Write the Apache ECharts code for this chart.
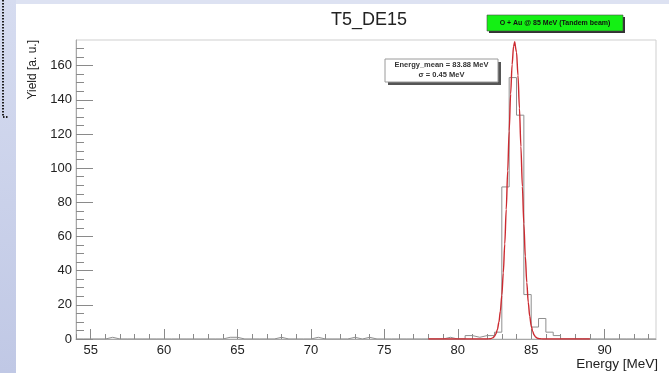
<!DOCTYPE html>
<html>
<head>
<meta charset="utf-8">
<title>T5_DE15</title>
<script src="https://cdn.jsdelivr.net/npm/echarts@6/dist/echarts.min.js"></script>
<style>
  html, body { margin: 0; padding: 0; }
  #chart { width: 669px; height: 373px; }
</style>
</head>
<body>
<div id="chart"></div>
<script>
// histogram, 0.5 MeV bins from 54 to 93.5
const histStart = 54;
const binWidth = 0.5;
const counts = [
  0, 0, 0, 0, 1, 0, 0, 0, 0, 0,        // 54.0 - 58.5
  0, 0, 0, 0, 0, 0, 0, 0, 0, 0,        // 59.0 - 63.5
  1, 1, 0, 0, 0, 0, 0, 1, 0, 0,        // 64.0 - 68.5
  0, 0, 1, 0, 0, 0, 0, 1, 0, 1,        // 69.0 - 73.5
  0, 0, 0, 0, 0, 0, 0, 0, 0, 0,        // 74.0 - 78.5
  1, 0, 0, 2, 1, 2, 2, 4, 89, 153,     // 79.0 - 83.5
  131, 26, 7, 12, 4, 2, 0, 0, 0, 0,    // 84.0 - 88.5
  0, 0, 0, 0, 0, 0, 0, 0, 0            // 89.0 - 93.0
];

// gaussian fit (mean 83.88 MeV, sigma 0.45 MeV)
const fitX = [78, 82.0, 82.2, 82.3, 82.4, 82.5, 82.6, 82.7, 82.8, 82.9, 83.0, 83.1, 83.2, 83.3,
  83.4, 83.5, 83.6, 83.7, 83.8, 83.88, 83.9, 84.0, 84.1, 84.2, 84.3, 84.4, 84.5, 84.6, 84.7,
  84.8, 84.9, 85.0, 85.1, 85.2, 85.3, 85.4, 85.5, 85.6, 85.8, 89];
const fitY = [0, 0.03, 0.16, 0.37, 0.78, 1.58, 3.05, 5.59, 9.77, 16.3, 25.7, 38.7, 55.6, 75.8,
  98.5, 121.8, 143.4, 160.6, 171.3, 174.0, 173.8, 167.9, 154.4, 135.1, 112.6, 89.2, 67.4, 48.4, 33.1,
  21.5, 13.3, 7.9, 4.4, 2.36, 1.2, 0.58, 0.25, 0.12, 0.02, 0];

const xMajorTicks = [55, 60, 65, 70, 75, 80, 85, 90];
const xMinorTicks = [54, 55, 56, 57, 58, 59, 60, 61, 62, 63, 64, 65, 66, 67, 68, 69, 70, 71, 72, 73,
  74, 75, 76, 77, 78, 79, 80, 81, 82, 83, 84, 85, 86, 87, 88, 89, 90, 91, 92, 93];
const yMajorTicks = [0, 20, 40, 60, 80, 100, 120, 140, 160];
const yMinorTicks = [0, 5, 10, 15, 20, 25, 30, 35, 40, 45, 50, 55, 60, 65, 70, 75, 80, 85, 90, 95,
  100, 105, 110, 115, 120, 125, 130, 135, 140, 145, 150, 155, 160, 165, 170];

const titleText = "T5_DE15";
const legendText = "O + Au @ 85 MeV (Tandem beam)";
const statsLines = ["Energy_mean = 83.88 MeV", "\u03c3 = 0.45 MeV"];

const histData = counts.map((c, i) => [histStart + i * binWidth, c]);
histData.push([histStart + counts.length * binWidth, counts[counts.length - 1]]);
const fitData = fitX.map((x, i) => [x, fitY[i]]);

const FONT = "Liberation Sans, Arial, Helvetica, sans-serif";
const tickColor = "#8a8a8a";

const chart = echarts.init(document.getElementById("chart"));

chart.setOption({
  animation: false,
  backgroundColor: "#dde2f2",
  title: {
    text: titleText,
    left: 364,
    top: 6,
    textAlign: "center",
    textStyle: { fontFamily: FONT, fontSize: 18, fontWeight: "normal", color: "#222" },
  },
  grid: {
    left: 76,
    right: 13,
    top: 40,
    bottom: 34,
    show: true,
    borderColor: "#cfcfcf",
    borderWidth: 1,
    backgroundColor: "transparent",
  },
  xAxis: [
    {
      type: "value",
      min: 54,
      max: 93.5,
      position: "bottom",
      axisLine: { onZero: false, lineStyle: { color: "#a8a8a8" } },
      axisTick: { inside: true, length: 10, customValues: xMajorTicks, lineStyle: { color: tickColor } },
      axisLabel: { customValues: xMajorTicks, margin: 5, color: "#222", fontSize: 13, fontFamily: FONT },
      splitLine: { show: false },
    },
    {
      type: "value",
      min: 54,
      max: 93.5,
      position: "bottom",
      axisLine: { show: false, onZero: false },
      axisTick: { inside: true, length: 5, customValues: xMinorTicks, lineStyle: { color: tickColor } },
      axisLabel: { show: false },
      splitLine: { show: false },
    },
  ],
  yAxis: [
    {
      type: "value",
      min: 0,
      max: 175,
      position: "left",
      axisLine: { show: true, onZero: false, lineStyle: { color: "#a8a8a8" } },
      axisTick: { show: true, inside: true, length: 17, customValues: yMajorTicks, lineStyle: { color: tickColor } },
      axisLabel: { customValues: yMajorTicks, margin: 4, color: "#222", fontSize: 13, fontFamily: FONT },
      splitLine: { show: false },
    },
    {
      type: "value",
      min: 0,
      max: 175,
      position: "left",
      axisLine: { show: false, onZero: false },
      axisTick: { show: true, inside: true, length: 8, customValues: yMinorTicks, lineStyle: { color: tickColor } },
      axisLabel: { show: false },
      splitLine: { show: false },
    },
  ],
  graphic: {
    elements: [
      // page decoration
      {
        type: "rect", z: -100,
        shape: { x: 0, y: 0, width: 16, height: 373 },
        style: {
          fill: new echarts.graphic.LinearGradient(0, 0, 0, 1, [
            { offset: 0, color: "#d6dcf0" },
            { offset: 1, color: "#c0c8e5" },
          ]),
        },
      },
      { type: "rect", z: -100, shape: { x: 16, y: 4, width: 653, height: 369 }, style: { fill: "#ffffff" } },
      {
        type: "polyline", z: 5,
        shape: { points: [[3, 0], [3, 117], [8, 117]] },
        style: { stroke: "#1e1e1e", lineWidth: 2, lineDash: [1.5, 1.5], fill: null },
      },
      // axis titles
      {
        type: "text", z: 5, x: 33, y: 40, rotation: Math.PI / 2,
        style: { text: "Yield [a. u.]", fontFamily: FONT, fontSize: 12, fill: "#222", align: "right", verticalAlign: "middle" },
      },
      {
        type: "text", z: 5, x: 658, y: 364,
        style: { text: "Energy [MeV]", fontFamily: FONT, fontSize: 13.5, fill: "#222", align: "right", verticalAlign: "middle" },
      },
      // stats box
      { type: "rect", z: 10, shape: { x: 388, y: 62, width: 113, height: 23 }, style: { fill: "#555" } },
      { type: "rect", z: 11, shape: { x: 385, y: 59, width: 113, height: 23 }, style: { fill: "#fff", stroke: "#9a9a9a", lineWidth: 1 } },
      {
        type: "text", z: 12, x: 441.5, y: 65,
        style: { text: statsLines[0], fontFamily: FONT, fontSize: 7.5, fontWeight: "bold", fill: "#333", align: "center", verticalAlign: "middle" },
      },
      {
        type: "text", z: 12, x: 441.5, y: 75,
        style: { text: statsLines[1], fontFamily: FONT, fontSize: 7.5, fontWeight: "bold", fill: "#333", align: "center", verticalAlign: "middle" },
      },
      // legend box
      { type: "rect", z: 10, shape: { x: 489, y: 17, width: 136, height: 16 }, style: { fill: "#333" } },
      { type: "rect", z: 11, shape: { x: 487, y: 15, width: 136, height: 16 }, style: { fill: "#14f014", stroke: "#4a4a4a", lineWidth: 0.6 } },
      {
        type: "text", z: 12, x: 555, y: 23,
        style: { text: legendText, fontFamily: FONT, fontSize: 7, fontWeight: "bold", fill: "#111", align: "center", verticalAlign: "middle" },
      },
    ],
  },
  series: [
    {
      name: "histogram",
      type: "line",
      xAxisIndex: 0,
      yAxisIndex: 0,
      step: "end",
      data: histData,
      symbol: "none",
      lineStyle: { color: "#8f8f8f", width: 1 },
      z: 2,
    },
    {
      name: "fit",
      type: "line",
      xAxisIndex: 0,
      yAxisIndex: 0,
      data: fitData,
      symbol: "none",
      smooth: 0.3,
      smoothMonotone: "x",
      lineStyle: { color: "#cc2a30", width: 1.4 },
      z: 3,
    },
  ],
});
</script>
</body>
</html>
